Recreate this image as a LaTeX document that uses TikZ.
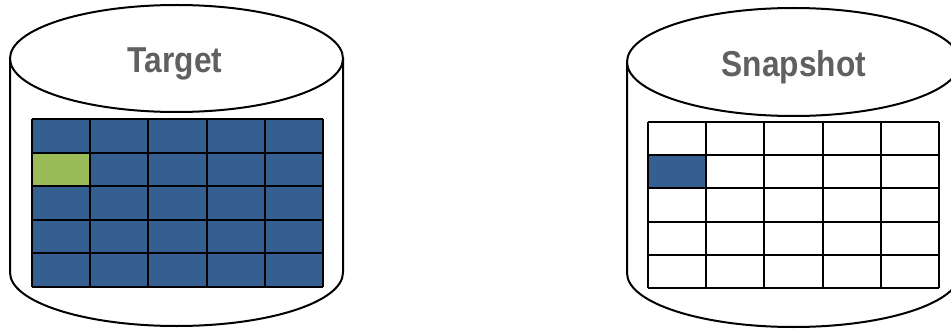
\documentclass[tikz,border=0pt]{standalone}
\usepackage{fontspec}
\setmainfont{Liberation Sans}
\definecolor{cellblue}{HTML}{365F91}
\definecolor{cellgreen}{HTML}{9BBB59}
\definecolor{labelgray}{HTML}{606060}
\begin{document}
\begin{tikzpicture}[x=1pt,y=1pt,
  outline/.style={draw=black,line width=2pt,fill=white},
  gridline/.style={draw=black,line width=2pt},
  dblabel/.style={text=labelgray,font=\bfseries\fontsize{36}{40}\selectfont,xscale=0.88,anchor=base,inner sep=0pt}]
\useasboundingbox (0,0) rectangle (951,330);
\clip (0,0) rectangle (951,330);
% ---------- Left cylinder (Target) ----------
\path[outline] (10,271.5) -- (10,57.5) arc[start angle=180,end angle=360,x radius=166.5,y radius=53.5] -- (343,271.5) -- cycle;
\path[outline] (176.5,271.5) ellipse[x radius=166.5,y radius=53.5];
\node[dblabel] (target) at (175,257) {Target};
\fill[cellblue] (32,43) rectangle (323,211);
\fill[cellgreen] (32,177.4) rectangle (90.2,144.2);
\foreach \i in {0,...,5} {\draw[gridline] (32+58.2*\i,43) -- (32+58.2*\i,211);}
\foreach \j in {0,...,5} {\draw[gridline] (32,43+33.6*\j) -- (323,43+33.6*\j);}
% ---------- Right cylinder (Snapshot) ----------
\path[outline] (627,268) -- (627,57) arc[start angle=180,end angle=360,x radius=166.5,y radius=54] -- (960,268) -- cycle;
\path[outline] (793.5,268) ellipse[x radius=166.5,y radius=54];
\node[dblabel] (snapshot) at (794,253) {Snapshot};
\fill[cellblue] (648,175.2) rectangle (706.2,142);
\foreach \i in {0,...,5} {\draw[gridline] (648+58.2*\i,42) -- (648+58.2*\i,208);}
\foreach \j in {0,...,5} {\draw[gridline] (648,42+33.2*\j) -- (939,42+33.2*\j);}
\end{tikzpicture}
\end{document}
